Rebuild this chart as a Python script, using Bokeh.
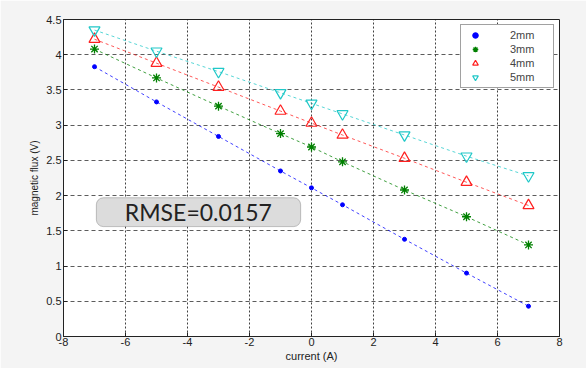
from bokeh.plotting import figure
from bokeh.models import (Label, Legend, LegendItem, FixedTicker, NumeralTickFormatter,
                          BoxAnnotation, Range1d)
from bokeh.embed import file_html
from bokeh.resources import INLINE

current = [-7, -5, -3, -1, 0, 1, 3, 5, 7]
flux_2mm = [3.83, 3.33, 2.84, 2.35, 2.11, 1.87, 1.38, 0.90, 0.43]
flux_3mm = [4.08, 3.67, 3.27, 2.88, 2.69, 2.48, 2.08, 1.70, 1.30]
flux_4mm = [4.22, 3.88, 3.54, 3.20, 3.03, 2.86, 2.53, 2.19, 1.86]
flux_5mm = [4.35, 4.05, 3.76, 3.46, 3.31, 3.16, 2.86, 2.56, 2.28]
series_names = ["2mm", "3mm", "4mm", "5mm"]
x_ticks = [-8, -6, -4, -2, 0, 2, 4, 6, 8]
y_ticks = [0, 0.5, 1, 1.5, 2, 2.5, 3, 3.5, 4, 4.5]
rmse_text = "RMSE=0.0157"

p = figure(width=586, height=368, output_backend="svg", toolbar_location=None,
           x_range=Range1d(-8, 8), y_range=Range1d(0, 4.5),
           min_border_left=63, min_border_right=27, min_border_top=19, min_border_bottom=32)
p.background_fill_color = "white"
p.border_fill_color = "#f4f4f4"
p.outline_line_color = "#222222"
p.outline_line_width = 1

for ax in (p.xaxis[0], p.yaxis[0]):
    ax.major_label_text_font = "Liberation Sans"
    ax.major_label_text_font_size = "11px"
    ax.major_label_text_color = "#222222"
    ax.axis_label_text_font = "Liberation Sans"
    ax.axis_label_text_font_style = "normal"
    ax.axis_label_text_color = "#222222"
    ax.major_tick_in = 4
    ax.major_tick_out = 0
    ax.minor_tick_in = 0
    ax.minor_tick_out = 0
    ax.axis_line_color = "#222222"
    ax.major_tick_line_color = "#222222"
    ax.major_label_standoff = 2
    ax.axis_label_standoff = 1
    ax.formatter = NumeralTickFormatter(format="0.[0]")

p.xaxis.ticker = FixedTicker(ticks=x_ticks)
p.yaxis.ticker = FixedTicker(ticks=y_ticks)
p.xaxis.axis_label = "current (A)"
p.yaxis.axis_label = "magnetic flux (V)"
p.xaxis.axis_label_text_font_size = "11px"
p.yaxis.axis_label_text_font_size = "10px"
p.xaxis.major_label_standoff = 1
p.yaxis.axis_label_standoff = 3

p.xgrid.grid_line_color = "#111111"
p.xgrid.grid_line_dash = "2 2"
p.xgrid.grid_line_alpha = 0.8
p.ygrid.grid_line_color = "#333333"
p.ygrid.grid_line_dash = "4 3"
p.ygrid.grid_line_alpha = 0.8

colors = ["#0000ff", "#008000", "#ff2020", "#20c8c8"]
data = [flux_2mm, flux_3mm, flux_4mm, flux_5mm]
items = []
for name, ys, c in zip(series_names, data, colors):
    p.line(current, ys, line_color=c, line_dash="3 3", line_width=1, line_alpha=0.75)
for name, ys, c in zip(series_names, data, colors):
    if name == "2mm":
        r = p.scatter(current, ys, marker="circle", size=4, fill_color=c, line_color=c)
    elif name == "3mm":
        r = p.scatter(current, ys, marker="asterisk", size=9, line_color=c, line_width=1.3)
    elif name == "4mm":
        r = p.scatter(current, ys, marker="triangle", size=11, fill_color=None, line_color=c, line_width=1.2)
    else:
        r = p.scatter(current, ys, marker="inverted_triangle", size=11, fill_color=None, line_color=c, line_width=1.2)
    items.append(LegendItem(label=name, renderers=[r]))

legend = Legend(items=items, location="top_right", margin=5, padding=3, spacing=0,
                label_text_font="Liberation Sans", label_text_font_size="11px",
                label_standoff=24, glyph_width=22, glyph_height=14, label_height=14,
                border_line_color="#444444", border_line_width=1.5,
                background_fill_color="white", background_fill_alpha=1, label_width=40)
p.add_layout(legend)

box = BoxAnnotation(left=-6.94, right=-0.35, bottom=1.56, top=1.97,
                    fill_color="#dcdcdc", fill_alpha=1, line_color="#444444", line_width=1,
                    border_radius=7)
p.add_layout(box)
p.add_layout(Label(x=-3.65, y=1.765, text=rmse_text, text_align="center", text_baseline="middle",
                   text_font="Lato", text_font_size="23px", text_color="#222222"))

open("out.html", "w").write(file_html(p, INLINE))
